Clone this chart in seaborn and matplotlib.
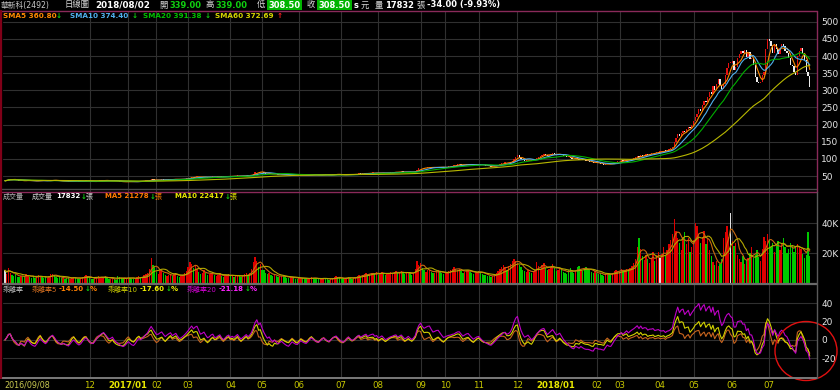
import numpy as np
import pandas as pd
import matplotlib
matplotlib.use("Agg")
import matplotlib.pyplot as plt
import seaborn as sns
from matplotlib.patches import Ellipse, Rectangle
from matplotlib.lines import Line2D

# ---------------- data (daily, 2016/09/08 .. 2018/08/02) ----------------
close = [
    # 2016/09-11
    36.0, 38.0, 40.5, 41.5, 40.0, 39.0, 38.2, 37.0, 36.2, 37.0,
    36.4, 35.6, 36.8, 37.8, 36.9, 35.8, 35.2, 34.8, 35.6, 36.8, 37.9, 37.0, 36.1, 35.3, 35.8,
    36.9, 37.8, 38.4, 37.6, 36.5, 35.7, 35.1, 34.6, 34.9, 34.5,
    34.0, 33.6, 34.4, 35.3, 35.9, 35.0, 34.1, 33.5, 33.9, 34.8, 35.6, 36.0, 35.1, 34.2, 33.5,
    33.2, 34.0, 35.0, 35.8,
    # 2016/12 - 2017/01
    36.6, 37.3, 37.9, 37.2, 36.4, 35.6, 35.9, 36.5, 35.5, 34.8,
    34.2, 33.6, 33.1, 32.6, 32.9, 33.7, 34.5, 33.9, 33.2, 32.8, 33.4, 34.3, 35.0, 34.4, 34.9,
    35.6, 36.3, 37.0,
    # 2017/02-03
    38.5, 39.8, 39.0, 38.3, 37.5, 37.9, 38.7, 39.4, 38.6, 38.0,
    38.9, 39.8, 40.6, 39.7, 40.5, 41.3, 40.4, 39.6, 40.1, 40.9, 41.8, 42.8, 44.0,
    # 2017/04-05
    45.5, 47.0, 46.2, 47.5, 48.4, 47.0, 45.6, 46.4, 47.4, 46.2, 45.3, 46.0, 47.2, 48.0, 46.8,
    47.2, 48.3, 49.2, 48.0, 47.2, 48.2, 49.3, 50.0, 48.8, 49.5,
    49.0, 50.0, 51.0, 49.8, 48.9, 49.9, 51.0, 52.0, 51.0, 52.2, 54.0,
    57.0, 60.5, 63.0, 61.0, 62.8, 60.5,
    58.5, 57.0, 55.8, 57.0, 55.6, 54.6, 55.8, 54.8, 54.0, 55.0, 56.0,
    # 2017/06-08
    55.2, 54.4, 53.6, 53.0, 54.0, 55.0, 54.0, 52.8, 52.2, 53.0,
    54.0, 53.2, 52.4, 51.9, 52.8, 54.0, 55.0, 54.2, 53.3, 52.6,
    52.0, 52.8, 53.8, 54.5, 53.6, 52.8, 52.2, 53.2, 54.3, 55.2,
    55.8, 54.8, 53.8, 53.0, 52.3, 53.0, 54.2, 55.3, 54.4, 53.5,
    54.0, 55.0, 56.2, 57.0, 56.0, 56.8, 57.8, 58.5, 57.3, 58.2,
    58.8, 59.3,
    58.2, 59.0, 57.8, 58.6, 59.6, 58.6, 57.6, 58.4, 59.4, 60.2,
    60.8, 61.6, 62.2, 61.0, 61.9, 62.8, 61.8, 60.6, 61.4, 62.6, 61.6, 60.8, 62.0, 64.0,
    # 2017/09-11
    68.5, 72.0, 74.5, 73.0,
    72.5, 74.0, 75.5, 76.6, 75.0, 73.6, 74.8, 76.2, 77.2, 76.0, 74.8, 73.8, 75.0, 76.5, 77.8,
    78.8, 80.0,
    80.8, 82.2, 83.5, 84.2, 82.8, 81.4, 82.6, 84.0, 85.0, 83.6, 82.2, 81.0, 82.4, 83.8, 84.8,
    83.4, 82.0, 80.8, 80.0,
    79.0, 78.0, 77.4, 78.6, 80.0, 81.6, 83.5,
    # 2017/12 - 2018/01
    85.0, 86.8, 88.5, 89.4, 87.8, 89.0, 91.0, 95.0,
    101.0, 106.5, 110.0, 104.0,
    99.0, 96.0, 94.0, 95.8, 98.0, 96.4, 94.8, 97.0, 100.0,
    103.5, 106.5, 109.5, 112.0, 114.0, 111.5, 109.0, 111.5, 114.0, 116.0,
    113.5, 111.0, 112.5, 115.0, 112.5, 109.5, 107.5, 105.5,
    # 2018/02-03
    104.5, 102.0, 100.0, 99.0, 101.5, 100.0, 98.0, 99.5, 97.5, 95.5, 94.0,
    93.0, 91.5, 89.5, 88.0, 90.0, 89.0, 87.0,
    86.0, 84.5, 83.0, 85.0, 86.8, 85.0, 84.0, 86.0, 88.5, 90.5, 92.5,
    93.5, 95.5, 94.0, 96.0, 98.0, 96.5, 98.5, 100.5, 102.5, 105.0, 108.0,
    106.5, 110.5, 109.0, 111.5, 113.0, 112.0,
    114.5, 116.0, 118.0, 117.0, 119.0, 121.0,
    # 2018/04-05
    121.0, 122.0, 124.0, 123.0, 126.0, 128.0, 131.0, 135.0,
    148.0, 160.0, 172.0, 168.0, 176.0, 182.0, 178.0,
    186.0, 194.0, 190.0, 200.0, 210.0, 222.0,
    232.0, 245.0, 240.0, 256.0, 270.0,
    265, 282, 296, 290, 312, 300, 318, 332, 315, 305,
    320, 345, 365, 380, 380, 385, 360, 368, 395, 405,
    # 2018/06-08
    415, 410, 418, 398, 412, 392, 395, 375, 340, 325,
    322, 325, 345, 355, 420, 450, 445, 430, 409, 435,
    420, 405, 425, 435, 430, 415, 410, 395, 375, 370,
    355, 345, 400, 415, 425, 410, 390, 353, 342.5, 308.5,
]

volume_k = [
    8.5, 6.2, 9.8, 7.0, 5.5, 4.8, 6.0, 4.2, 3.8, 4.5,
    4.8, 4.2, 6.0, 5.2, 3.9, 3.6, 4.5, 3.3, 4.2, 5.4, 4.6, 3.8, 3.3, 4.4, 3.6,
    5.0, 5.7, 6.3, 5.2, 4.0, 3.5, 3.9, 3.2, 3.6, 3.0,
    3.3, 3.8, 2.9, 3.5, 4.2, 3.2, 2.7, 3.0, 3.6, 4.0, 4.8, 5.2, 3.9, 3.3, 2.9,
    2.6, 3.2, 3.9, 4.5,
    3.8, 4.2, 3.5, 4.6, 3.2, 2.8, 2.5, 3.1, 2.6, 2.3,
    4.4, 3.8, 3.3, 3.0, 2.7, 3.5, 4.0, 3.2, 2.9, 2.6, 3.0, 3.9, 4.5, 3.6, 4.2,
    5.1, 5.8, 7.0,
    9.5, 16.5, 12.0, 10.5, 7.2, 6.0, 8.4, 9.0, 6.5, 5.2,
    4.8, 5.5, 6.2, 4.5, 5.8, 6.6, 4.9, 4.2, 4.6, 5.4, 6.8, 8.2, 10.5,
    14.0, 12.5, 10.2, 11.8, 9.6, 7.4, 6.2, 7.0, 8.5, 6.4, 5.2, 5.8, 6.6, 7.2, 5.5,
    4.8, 5.6, 6.4, 4.6, 4.0, 4.8, 5.4, 6.0, 4.5, 4.9,
    4.2, 5.0, 5.6, 4.4, 3.8, 4.6, 5.8, 6.5, 5.2, 7.0, 9.5,
    14.0, 17.5, 15.0, 11.0, 12.5, 9.0,
    8.5, 7.0, 6.0, 6.8, 5.5, 4.8, 5.4, 4.6, 4.0, 4.4, 5.0,
    4.6, 4.0, 3.6, 3.2, 3.8, 4.2, 3.5, 3.0, 2.8, 3.1,
    3.6, 3.2, 2.7, 2.5, 2.9, 3.4, 3.9, 3.3, 2.9, 2.6,
    2.4, 2.7, 3.1, 3.5, 3.0, 2.6, 2.3, 2.8, 3.3, 3.9,
    4.4, 3.8, 3.2, 2.8, 2.5, 2.9, 3.6, 4.2, 3.5, 3.0,
    3.4, 4.0, 4.8, 5.5, 4.6, 5.2, 6.0, 6.6, 5.4, 6.2,
    7.0, 6.5,
    6.0, 7.2, 5.6, 6.4, 7.5, 6.2, 5.4, 6.0, 6.8, 7.4,
    6.6, 7.2, 7.8, 6.4, 7.0, 8.0, 6.8, 5.8, 6.6, 7.6, 6.4, 5.6, 7.0, 9.5,
    14.5, 12.0, 13.5, 10.0,
    8.5, 7.6, 8.4, 9.0, 7.2, 6.4, 7.0, 7.8, 8.6, 7.4, 6.6, 5.8, 6.4, 7.2, 8.0,
    8.8, 9.6,
    10.5, 9.4, 8.6, 9.2, 7.8, 6.8, 7.6, 8.4, 9.0, 7.6, 6.8, 6.0, 6.6, 7.4, 8.0,
    7.0, 6.2, 5.6, 5.2,
    5.0, 4.6, 4.2, 4.8, 5.6, 6.4, 8.0,
    9.5, 10.5, 12.0, 10.8, 9.0, 11.5, 13.0, 14.5,
    16.0, 15.0, 13.5, 12.0,
    10.5, 9.0, 8.2, 7.6, 8.8, 7.4, 6.8, 7.6, 9.0,
    14.0, 11.5, 9.6, 12.0, 13.5, 10.0, 8.4, 9.5, 10.8, 12.5,
    9.8, 8.0, 8.8, 10.2, 8.6, 7.4, 6.8, 6.2,
    8.6, 9.8, 7.6, 6.8, 8.0, 10.5, 11.5, 9.0, 8.2, 9.4, 10.8,
    9.6, 8.4, 7.2, 6.4, 7.8, 6.6, 5.8,
    6.4, 5.6, 4.8, 6.0, 7.0, 5.8, 5.2, 6.8, 7.8, 9.0, 8.2,
    7.6, 9.2, 8.0, 8.8, 9.6, 8.4, 10.2, 11.5, 13.5, 16.0, 24.0,
    30.0, 22.5, 18.0, 15.5, 19.0, 16.0,
    13.5, 17.0, 20.5, 15.0, 18.5, 21.0,
    16.5, 19.5, 24.0, 18.0, 22.0, 26.0, 29.0, 33.0,
    43.0, 35.0, 30.0, 27.0, 22.0, 31.0, 34.0,
    26.0, 30.0, 21.0, 24.0, 29.0, 40.0,
    38.0, 33.0, 27.0, 31.0, 35.0,
    26.0, 30.0, 22.0, 18.0, 14.0, 12.0, 15.0, 11.5, 13.0, 16.0,
    30.0, 34.0, 38.0, 31.0, 47.0, 28.0, 25.0, 27.0, 19.0, 16.0,
    14.0, 18.0, 13.0, 15.5, 17.0, 20.0, 24.0, 16.5, 19.0, 22.0,
    17.5, 15.0, 23.0, 31.0, 28.0, 33.0, 29.0, 24.0, 27.0, 21.0,
    25.0, 28.0, 22.0, 26.0, 30.0, 24.0, 20.0, 23.0, 27.0, 25.0,
    21.0, 24.5, 26.0, 23.28, 23.0, 19.2, 17.0, 18.36, 34.0, 17.832,
]

tick_idx = [48, 70, 86, 104, 128, 146, 167, 191, 212, 236, 250, 269, 291,
            313, 336, 349, 372, 391, 413, 434]
tick_labels = ["12", "2017/01", "02", "03", "04", "05", "06", "07", "08", "09",
               "10", "11", "12", "2018/01", "02", "03", "04", "05", "06", "07"]
first_label = "2016/09/08"

price_ticks = [50, 100, 150, 200, 250, 300, 350, 400, 450, 500]
vol_ticks = [20, 40]
bias_ticks = [-20, 0, 20, 40]

# ---------------- derived ----------------
n = min(len(close), len(volume_k))
df = pd.DataFrame({"i": np.arange(n), "close": close[:n], "vol": np.array(volume_k[:n]) * 1000})
df["open"] = df["close"].shift(1).fillna(df["close"])
for w in (5, 10, 20, 60):
    df[f"sma{w}"] = df["close"].rolling(w, min_periods=1).mean()
for w in (5, 10, 20):
    df[f"bias{w}"] = (df["close"] - df[f"sma{w}"]) / df[f"sma{w}"] * 100
for w in (5, 10):
    df[f"vma{w}"] = df["vol"].rolling(w, min_periods=1).mean()

# ---------------- figure ----------------
sns.set_theme(style="dark")
plt.rcParams["font.family"] = ["DejaVu Sans", "Noto Sans CJK TC"]
W, H = 840, 390
fig = plt.figure(figsize=(8.4, 3.9), dpi=100, facecolor="black")

def fx(px):
    return px / W

def fy(py):
    return 1 - py / H

L, R = 3, 817
ax1 = fig.add_axes([fx(L), fy(192), fx(R - L), (192 - 11) / H])
ax2 = fig.add_axes([fx(L), fy(283), fx(R - L), (283 - 192) / H])
ax3 = fig.add_axes([fx(L), fy(378), fx(R - L), (378 - 283) / H])

xlo = (L - 5) / 1.761
xhi = (R - 5) / 1.761
grid_c = "#303030"
lab_c = "#e6e6e6"

for ax in (ax1, ax2, ax3):
    ax.set_facecolor("black")
    for s in ax.spines.values():
        s.set_visible(False)
    ax.set_xlim(xlo, xhi)
    ax.set_xticks(tick_idx)
    ax.grid(True, color=grid_c, lw=0.8)
    ax.yaxis.tick_right()
    ax.tick_params(axis="both", length=0, labelsize=6.5, colors=lab_c, pad=3)
    ax.tick_params(axis="x", labelbottom=False)

# ----- price panel -----
up = df["close"] >= df["open"]
body_lo = np.minimum(df["open"], df["close"])
body_h = np.maximum((df["close"] - df["open"]).abs(), 1.5)
ax1.bar(df["i"], body_h, bottom=body_lo, width=0.75, linewidth=0,
        color=np.where(up, "#e41010", "#ececec"), zorder=2)
ma_cols = {"sma5": "#ff8a00", "sma10": "#4fb0ee", "sma20": "#00b000", "sma60": "#b8b800"}
for k, c in ma_cols.items():
    sns.lineplot(data=df, x="i", y=k, color=c, lw=0.8, ax=ax1, zorder=3)
ax1.set_ylim(3.3, 531.7)
ax1.set_yticks(price_ticks)
ax1.set_yticklabels([str(v) for v in price_ticks])
ax1.set_xlabel(""); ax1.set_ylabel("")

# ----- volume panel -----
vcol = np.where(df["close"] > df["open"], "#e00000",
                np.where(df["close"] < df["open"], "#00c800", "#e0e0e0"))
ax2.bar(df["i"], df["vol"], width=0.75, linewidth=0, color=vcol, zorder=2)
sns.lineplot(data=df, x="i", y="vma5", color="#c86a10", lw=0.8, ax=ax2, zorder=3)
sns.lineplot(data=df, x="i", y="vma10", color="#b4a800", lw=0.8, ax=ax2, zorder=3)
ax2.set_ylim(0, 60700)
ax2.set_yticks([v * 1000 for v in vol_ticks])
ax2.set_yticklabels([f"{v}K" for v in vol_ticks])
ax2.set_xlabel(""); ax2.set_ylabel("")

# ----- bias panel -----
bias_cols = {"bias5": "#c8641e", "bias10": "#d2d200", "bias20": "#c000c8"}
for k, c in bias_cols.items():
    sns.lineplot(data=df, x="i", y=k, color=c, lw=0.8, ax=ax3, zorder=3)
ax3.set_ylim(-41.5, 62.2)
ax3.set_yticks(bias_ticks)
ax3.set_yticklabels([str(v) for v in bias_ticks])
ax3.tick_params(axis="x", labelbottom=True, colors="#c8c800", labelsize=6.2, pad=2)
ax3.set_xticklabels(tick_labels)
for t in ax3.get_xticklabels():
    if "/" in t.get_text():
        t.set_fontweight("bold")
        t.set_color("#e6e600")
ax3.set_xlabel(""); ax3.set_ylabel("")

# ----- frame lines -----
def hline(py, x0, x1, c, lw):
    fig.add_artist(Line2D([fx(x0), fx(x1)], [fy(py), fy(py)], color=c, lw=lw))

def vline(px, y0, y1, c, lw):
    fig.add_artist(Line2D([fx(px), fx(px)], [fy(y0), fy(y1)], color=c, lw=lw))

hline(11, 0, 817, "#8a2a5a", 1.0)
hline(189, 0, 817, "#4a4a4a", 1.0)
hline(191.5, 0, 817, "#8a2a5a", 1.0)
hline(283.8, 0, 817, "#6a6a6a", 1.6)
hline(378, 0, 817, "#7a7a7a", 1.4)
vline(817, 11, 192, "#8a2a5a", 1.0)
vline(817, 192, 378, "#5a5a5a", 1.0)
vline(1.2, 11, 378, "#800018", 1.6)

# ----- texts -----
def T(px, py, s, c, bold=False, size=5.0):
    fig.text(fx(px), fy(py), s, color=c, fontsize=size,
             fontweight="bold" if bold else "normal", ha="left", va="center")

GREEN_ARROW = "#10d010"
# header
fig.add_artist(Rectangle((fx(267), fy(9.5)), fx(35), 9.5 / H, color="#00b400", lw=0))
fig.add_artist(Rectangle((fx(317), fy(9.5)), fx(35), 9.5 / H, color="#00b400", lw=0))
T(1, 5, "華新科(2492)", "#c8c8c8", size=5.6)
T(65, 5, "日線圖", "#d8d8d8", size=6.0)
T(95, 5, "2018/08/02", "white", True, 6.3)
T(159, 5, "開", "#d8d8d8", size=6.0)
T(169, 5, "339.00", "#10d010", True, 6.0)
T(206, 5, "高", "#d8d8d8", size=6.0)
T(215, 5, "339.00", "#10d010", True, 6.0)
T(257, 5, "低", "#d8d8d8", size=6.0)
T(268, 5, "308.50", "white", True, 6.0)
T(307, 5, "收", "#d8d8d8", size=6.0)
T(318, 5, "308.50", "white", True, 6.0)
T(354, 5, "s", "white", True, 6.0)
T(361, 5, "元", "#d8d8d8", size=6.0)
T(375, 5, "量", "#d8d8d8", size=6.0)
T(385, 5, "17832", "white", True, 6.0)
T(416, 5, "張", "#d8d8d8", size=6.0)
T(427, 5, "-34.00 (-9.93%)", "white", True, 6.0)

# SMA legend
T(3, 15.5, "SMA5 360.80", "#ff8a00", True, 5.2)
T(56, 15.5, "↓", GREEN_ARROW, True, 5.2)
T(70, 15.5, "SMA10 374.40", "#4fb0ee", True, 5.2)
T(132, 15.5, "↓", GREEN_ARROW, True, 5.2)
T(143, 15.5, "SMA20 391.38", "#00c000", True, 5.2)
T(205, 15.5, "↓", GREEN_ARROW, True, 5.2)
T(215, 15.5, "SMA60 372.69", "#d4d400", True, 5.2)
T(277, 15.5, "↑", "#ff2020", True, 5.2)

# volume legend
T(3, 196.5, "成交量", "#b8b8b8")
T(32, 196.5, "成交量", "#d0d0d0")
T(56, 196.5, "17832", "white", True)
T(81, 196.5, "↓", GREEN_ARROW, True)
T(86, 196.5, "張", "#d0d0d0")
T(105, 196.5, "MA5 21278", "#ff7a00", True)
T(150, 196.5, "↓", GREEN_ARROW, True)
T(155, 196.5, "張", "#ff7a00")
T(175, 196.5, "MA10 22417", "#e6e600", True)
T(225, 196.5, "↓", GREEN_ARROW, True)
T(230, 196.5, "張", "#e6e600")

# bias legend
T(3, 289, "乖離率", "#b8b8b8")
T(32, 289, "乖離率5", "#d87020")
T(59, 289, "-14.50", "#ff8000", True)
T(85, 289, "↓", GREEN_ARROW, True)
T(90, 289, "%", "#ff8000", True)
T(108, 289, "乖離率10", "#c8c800")
T(140, 289, "-17.60", "#f0f000", True)
T(166, 289, "↓", GREEN_ARROW, True)
T(171, 289, "%", "#f0f000", True)
T(187, 289, "乖離率20", "#d000d0")
T(219, 289, "-21.18", "#ff20ff", True)
T(245, 289, "↓", GREEN_ARROW, True)
T(250, 289, "%", "#ff20ff", True)

# first date label at left edge
T(4, 385, first_label, "#c8c850", size=5.8)

# red circle annotation
fig.add_artist(Ellipse((fx(806), fy(351)), fx(62), 59 / H, fill=False,
                       edgecolor="#e01010", lw=1.0))

fig.savefig("out.png", dpi=100, facecolor="black")
